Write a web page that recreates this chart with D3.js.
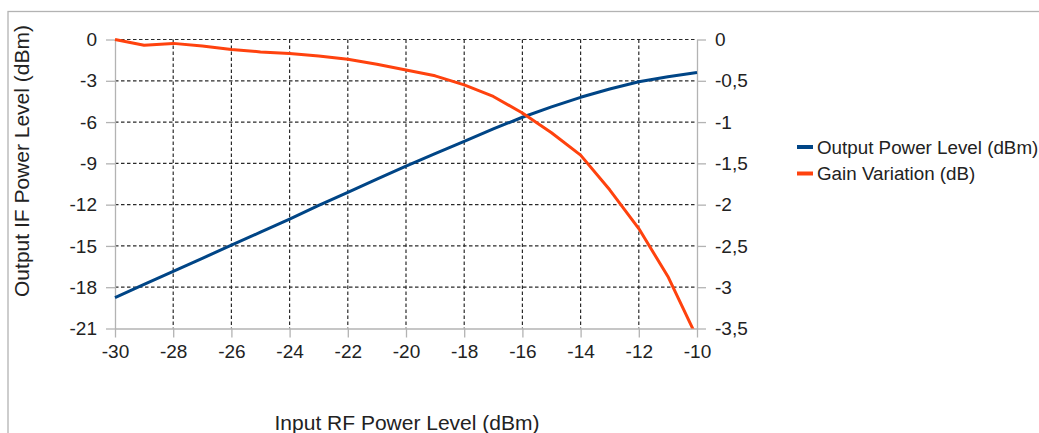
<!DOCTYPE html>
<html lang="en">
  <head>
    <meta charset="UTF-8" />
    <title>Output Power and Gain Variation</title>
    <script src="https://d3js.org/d3.v7.min.js"></script>
    <style>
      body {
        margin: 0;
        background: #fff;
        font-family: "Liberation Sans", Arial, sans-serif;
      }
      .grid line {
        stroke: #2a2a2a;
        stroke-width: 1.2px;
        stroke-dasharray: 3.5, 2.5;
      }
      .axis path,
      .axis line {
        stroke: #b3b3b3;
        stroke-width: 1.3px;
      }
      .axis text {
        fill: #222;
        font-size: 19px;
      }
    </style>
  </head>
  <body>
    <svg id="chart" width="1039" height="433"></svg>

    <script>
      // input RF power level (dBm)
      const inputPower = [
        -30, -29, -28, -27, -26, -25, -24, -23, -22, -21, -20, -19, -18, -17,
        -16, -15, -14, -13, -12, -11, -10,
      ];
      // output IF power level (dBm), left axis
      const outputPower = [
        -18.75, -17.8, -16.85, -15.9, -14.95, -14.0, -13.05, -12.05, -11.1,
        -10.15, -9.2, -8.3, -7.4, -6.5, -5.65, -4.9, -4.2, -3.6, -3.07, -2.7,
        -2.4,
      ];
      // gain variation (dB), right axis
      const gainVariation = [
        0, -0.07, -0.047, -0.08, -0.12, -0.15, -0.17, -0.2, -0.24, -0.3, -0.37,
        -0.44, -0.55, -0.69, -0.89, -1.13, -1.4, -1.82, -2.29, -2.87, -3.61,
      ];

      const xTicks = [-30, -28, -26, -24, -22, -20, -18, -16, -14, -12, -10];
      const leftTicks = [0, -3, -6, -9, -12, -15, -18, -21];
      const rightTicks = [0, -0.5, -1, -1.5, -2, -2.5, -3, -3.5];

      const seriesNames = ["Output Power Level (dBm)", "Gain Variation (dB)"];
      const seriesColors = ["#004586", "#ff420e"];

      const svg = d3.select("#chart");
      const margin = { top: 39.5, left: 115, right: 342, bottom: 104.5 };
      const width = +svg.attr("width") - margin.left - margin.right;
      const height = +svg.attr("height") - margin.top - margin.bottom;

      // outer chart frame (right and bottom edges fall outside the picture)
      svg
        .append("rect")
        .attr("x", 8)
        .attr("y", 11.5)
        .attr("width", 1100)
        .attr("height", 500)
        .attr("fill", "none")
        .attr("stroke", "#b3b3b3")
        .attr("stroke-width", 1.3);

      const g = svg
        .append("g")
        .attr("transform", `translate(${margin.left},${margin.top})`);

      const x = d3.scaleLinear().domain([-30, -10]).range([0, width]);
      const yL = d3.scaleLinear().domain([-21, 0]).range([height, 0]);
      const yR = d3.scaleLinear().domain([-3.5, 0]).range([height, 0]);

      g.append("clipPath")
        .attr("id", "plotClip")
        .append("rect")
        .attr("x", -2)
        .attr("y", -2)
        .attr("width", width + 4)
        .attr("height", height + 2);

      // dashed grid
      const grid = g.append("g").attr("class", "grid");
      grid
        .selectAll(".vg")
        .data(xTicks.slice(1, -1))
        .join("line")
        .attr("x1", (d) => x(d))
        .attr("x2", (d) => x(d))
        .attr("y1", 0)
        .attr("y2", height);
      grid
        .selectAll(".hg")
        .data(leftTicks.slice(0, -1))
        .join("line")
        .attr("x1", 0)
        .attr("x2", width)
        .attr("y1", (d) => yL(d))
        .attr("y2", (d) => yL(d));

      // plain hyphen minus and decimal comma, as in the original
      const fmt = (d) => String(d).replace(".", ",");

      // Axes
      g.append("g")
        .attr("class", "axis")
        .attr("transform", `translate(0,${height})`)
        .call(
          d3
            .axisBottom(x)
            .tickValues(xTicks)
            .tickSize(9)
            .tickSizeOuter(0)
            .tickPadding(7)
            .tickFormat(fmt)
        );

      g.append("g")
        .attr("class", "axis")
        .call(
          d3
            .axisLeft(yL)
            .tickValues(leftTicks)
            .tickSize(9)
            .tickSizeOuter(0)
            .tickPadding(9)
            .tickFormat(fmt)
        );

      g.append("g")
        .attr("class", "axis")
        .attr("transform", `translate(${width},0)`)
        .call(
          d3
            .axisRight(yR)
            .tickValues(rightTicks)
            .tickSize(9)
            .tickSizeOuter(0)
            .tickPadding(9)
            .tickFormat(fmt)
        );

      g.selectAll(".axis .domain").attr("stroke", "#b3b3b3");
      g.selectAll(".axis text").attr("fill", "#222");

      // Lines
      const lineL = d3
        .line()
        .x((d, i) => x(inputPower[i]))
        .y((d) => yL(d));
      const lineR = d3
        .line()
        .x((d, i) => x(inputPower[i]))
        .y((d) => yR(d));

      const lines = g.append("g").attr("clip-path", "url(#plotClip)");
      lines
        .append("path")
        .datum(outputPower)
        .attr("fill", "none")
        .attr("stroke", seriesColors[0])
        .attr("stroke-width", 3)
        .attr("stroke-linejoin", "round")
        .attr("d", lineL);
      lines
        .append("path")
        .datum(gainVariation)
        .attr("fill", "none")
        .attr("stroke", seriesColors[1])
        .attr("stroke-width", 3)
        .attr("stroke-linejoin", "round")
        .attr("d", lineR);

      // Axis titles
      svg
        .append("text")
        .attr("x", margin.left + width / 2 + 1)
        .attr("y", 430)
        .attr("text-anchor", "middle")
        .attr("font-size", "21px")
        .attr("fill", "#222")
        .text("Input RF Power Level (dBm)");

      svg
        .append("text")
        .attr("transform", "translate(29,161) rotate(-90)")
        .attr("text-anchor", "middle")
        .attr("font-size", "21px")
        .attr("fill", "#222")
        .text("Output IF Power Level (dBm)");

      // Legend
      const legend = svg
        .selectAll(".legend")
        .data(seriesNames)
        .join("g")
        .attr("transform", (d, i) => `translate(797,${147 + i * 26.5})`);
      legend
        .append("line")
        .attr("x1", 0)
        .attr("x2", 16)
        .attr("stroke", (d, i) => seriesColors[i])
        .attr("stroke-width", 4);
      legend
        .append("text")
        .attr("x", 20)
        .attr("dy", "0.35em")
        .attr("font-size", "18.8px")
        .attr("fill", "#222")
        .text((d) => d);
    </script>
  </body>
</html>
